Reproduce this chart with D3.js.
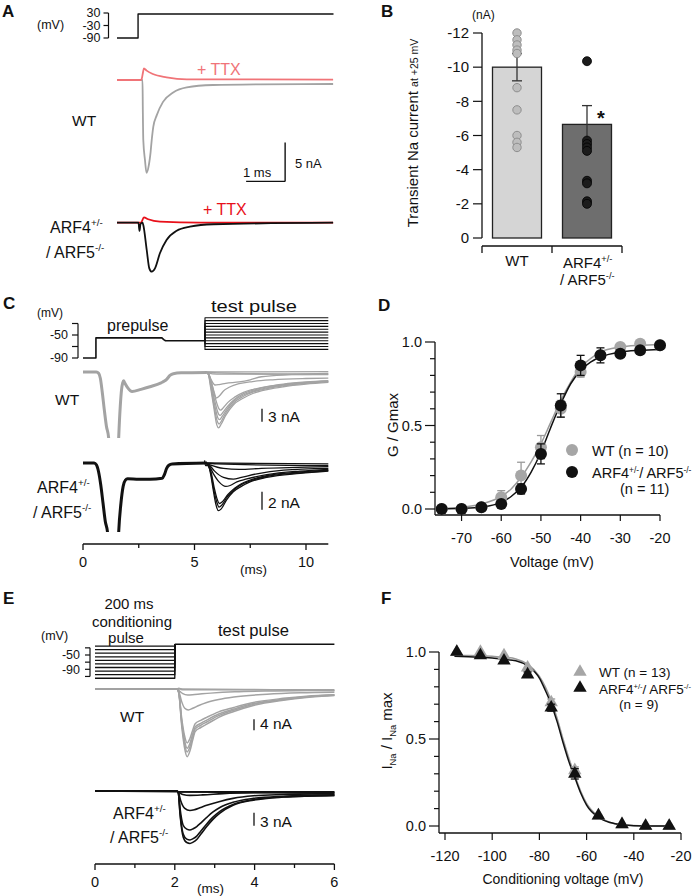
<!DOCTYPE html>
<html><head><meta charset="utf-8">
<script src="https://cdn.jsdelivr.net/npm/d3@7"></script>
<style>
body{margin:0;background:#fff;}
svg{display:block;font-family:"Liberation Sans",Arial,Helvetica,sans-serif;}
</style></head><body>
<script>
// ================= DATA =================
// Panel A : step protocol (ms, mV) and currents (ms, nA)
const aProtocol = [[0,-90],[0.54,-90],[0.54,25],[5.55,25]];
const aProtocolTicks = [30,-30,-90];
const aWtTrace = [[0,0],[0.654,0],[0.662,-3.8],[0.674,-7.7],[0.718,-10.3],[0.756,-11.9],[0.82,-10.8],[0.86,-9.3],[0.89,-7.7],[0.93,-6.0],[1.02,-4.5],[1.18,-2.8],[1.44,-1.6],[1.79,-0.94],[2.46,-0.64],[3.67,-0.55],[5.54,-0.51]];
const aWtTtx = [[0,0],[0.615,0],[0.64,0.26],[0.667,1.0],[0.69,1.5],[0.76,1.2],[0.92,0.77],[1.27,0.35],[1.79,0.09],[5.54,0.06]];
const aArfTrace = [[0,0],[0.55,0],[0.577,-1.06],[0.603,-0.17],[0.654,0],[0.674,-0.3],[0.762,-3.5],[0.828,-5.85],[0.89,-6.28],[0.974,-5.85],[1.10,-3.92],[1.27,-2.22],[1.53,-1.03],[1.87,-0.51],[2.47,-0.2],[5.54,0]];
const aArfTtx = [[0,0],[0.615,0],[0.69,0.69],[0.80,0.44],[1.10,0.13],[2.13,0],[5.54,0]];

// Panel B : transient Na current at +25 mV (nA)
const bCategories = ["WT","ARF"];
const bMeans = [-10.0,-6.65];
const bSem = [0.8,1.1];
const bWtPoints = [-12.0,-11.6,-11.3,-11.0,-10.8,-8.8,-7.5,-6.0,-5.6,-5.3];
const bArfPoints = [-10.35,-5.7,-5.5,-5.3,-5.1,-3.35,-3.2,-2.15,-2.0];
const bTicks = [0,-2,-4,-6,-8,-10,-12];

// Panel C : activation protocol and current families
const cPrepulse = [[0,-90],[0.58,-90],[0.58,-55],[3.54,-55],[3.62,-58],[3.7,-60],[5.47,-60]];
const cProtocolTicks = [-30,-50,-70,-90];
const cWtPre = [[0,0],[0.6,0],[0.7,-0.3],[0.78,-1.5],[0.86,-4.5],[0.95,-8.5],[1.05,-12.5],[1.15,-15.2],[1.3,-40],[1.45,-40],[1.6,-15.2],[1.67,-8],[1.73,-4],[1.78,-2.5],[1.82,-2.0],[1.88,-2.6],[2.0,-3.6],[2.2,-4.5],[2.6,-4.0],[3.0,-3.4],[3.5,-2.5],[3.65,-2.1],[3.75,-1.7],[3.9,-0.8],[4.05,-0.4],[4.4,-0.2],[5.55,-0.1]];
const cWtTest = [
 [[5.5,0],[5.62,-0.5],[5.72,-3.5],[5.86,-8],[6.0,-12.2],[6.08,-12.9],[6.2,-12],[6.4,-10],[6.74,-7.6],[7.2,-6],[7.64,-4.9],[8.3,-4],[8.98,-3.4],[10,-2.8],[11,-2.4]],
 [[5.5,0],[5.62,-0.5],[5.73,-3.2],[5.87,-7.6],[6.03,-11.5],[6.1,-12.0],[6.22,-11.2],[6.42,-9.3],[6.74,-7.2],[7.2,-5.6],[7.64,-4.6],[8.3,-3.8],[8.98,-3.2],[10,-2.6],[11,-2.3]],
 [[5.5,0],[5.62,-0.5],[5.74,-3],[5.88,-7],[6.05,-10.6],[6.12,-11.0],[6.25,-10.2],[6.45,-8.6],[6.74,-6.8],[7.2,-5.3],[7.64,-4.4],[8.3,-3.6],[8.98,-3.0],[10,-2.5],[11,-2.2]],
 [[5.5,0],[5.62,-0.5],[5.75,-2.8],[5.9,-6.5],[6.08,-9.7],[6.15,-10.0],[6.28,-9.3],[6.5,-7.8],[6.8,-6.3],[7.2,-5.0],[7.64,-4.2],[8.3,-3.4],[8.98,-2.9],[10,-2.4],[11,-2.1]],
 [[5.5,0],[5.62,-0.4],[5.76,-2.5],[5.92,-5.8],[6.1,-8.5],[6.17,-8.8],[6.3,-8.2],[6.5,-7.0],[6.8,-5.8],[7.2,-4.7],[7.64,-4.0],[8.3,-3.3],[8.98,-2.8],[10,-2.3],[11,-2.0]],
 [[5.5,0],[5.62,-0.4],[5.75,-2.2],[5.88,-4.6],[5.98,-6.0],[6.1,-5.6],[6.3,-4.4],[6.6,-3.4],[7.0,-2.7],[7.6,-2.2],[8.5,-1.8],[10,-1.5],[11,-1.4]],
 [[5.5,0],[5.62,-0.3],[5.75,-1.8],[5.92,-3.0],[6.1,-2.9],[6.4,-2.6],[7.0,-2.3],[7.5,-1.8],[8.0,-1.1],[9,-0.7],[11,-0.5]],
 [[5.5,0],[5.6,-0.2],[6,-0.5],[7,-0.5],[11,-0.3]],
 [[5.5,0],[6,-0.2],[11,-0.6]],
 [[5.5,0],[11,0.1]]
];
const cArfPre = [[0,0],[0.5,0],[0.6,-0.2],[0.7,-1.0],[0.8,-2.5],[0.9,-4.5],[1.0,-6.5],[1.1,-7.7],[1.3,-20],[1.45,-20],[1.6,-7.7],[1.7,-4.5],[1.8,-2.6],[1.9,-1.9],[2.0,-1.75],[2.5,-1.8],[3.0,-1.8],[3.55,-1.7],[3.65,-1.3],[3.75,-0.6],[3.85,-0.25],[4.0,-0.1],[5.56,0]];
const cArfTest = [
 [[5.45,0.3],[5.5,-0.3],[5.62,-0.3],[5.72,-1.2],[5.84,-3.0],[5.95,-4.5],[6.07,-5.3],[6.2,-5.1],[6.44,-4.1],[6.74,-3.2],[7.1,-2.6],[7.49,-2.1],[8.24,-1.6],[9.73,-1.15],[11,-0.9]],
 [[5.5,0],[5.62,-0.3],[5.73,-1.1],[5.86,-2.9],[5.98,-4.2],[6.1,-4.9],[6.22,-4.7],[6.46,-3.8],[6.76,-3.0],[7.1,-2.4],[7.49,-2.0],[8.24,-1.5],[9.73,-1.1],[11,-0.85]],
 [[5.5,0],[5.62,-0.3],[5.74,-1.0],[5.88,-2.7],[6.0,-3.9],[6.12,-4.5],[6.25,-4.3],[6.5,-3.5],[6.8,-2.8],[7.1,-2.3],[7.49,-1.9],[8.24,-1.4],[9.73,-1.0],[11,-0.8]],
 [[5.5,0],[5.65,-0.3],[5.85,-1.2],[6.1,-2.1],[6.4,-2.6],[6.6,-2.5],[6.9,-2.1],[7.3,-1.8],[8.24,-1.3],[9.73,-0.9],[11,-0.7]],
 [[5.5,0],[5.65,-0.2],[5.9,-0.9],[6.3,-1.6],[6.74,-1.8],[7.1,-1.6],[7.8,-1.2],[9,-0.8],[11,-0.6]],
 [[5.5,0],[5.7,-0.2],[6.3,-0.6],[7,-0.7],[8,-0.6],[11,-0.4]],
 [[5.5,0],[6,-0.1],[11,-0.3]],
 [[5.5,0],[11,-0.1]]
];
const cTicksMajor = [0,5,10];
const cTicksMinor = [2.5,7.5];

// Panel D : activation G/Gmax
const dVoltage = [-75,-70,-65,-60,-55,-50,-45,-40,-35,-30,-25,-20];
const dWtMean = [0.0,0.0,0.01,0.07,0.20,0.37,0.60,0.82,0.92,0.97,0.99,0.98];
const dWtErr  = [0.005,0.005,0.01,0.04,0.08,0.07,0.05,0.03,0.02,0.015,0.01,0.01];
const dArfMean = [0.0,0.0,0.01,0.03,0.12,0.33,0.62,0.86,0.92,0.93,0.95,0.98];
const dArfErr  = [0.005,0.005,0.01,0.01,0.03,0.06,0.07,0.06,0.045,0.02,0.015,0.01];
const dWtFitV  = [-75,-70,-65,-60,-57.5,-55,-52.5,-50,-47.5,-45,-42.5,-40,-37.5,-35,-30,-25,-20];
const dWtFitG  = [0.003,0.01,0.03,0.075,0.12,0.19,0.28,0.39,0.52,0.65,0.76,0.85,0.9,0.94,0.97,0.98,0.985];
const dArfFitV = [-75,-70,-65,-60,-57.5,-55,-52.5,-50,-47.5,-45,-42.5,-40,-37.5,-35,-30,-25,-20];
const dArfFitG = [0.001,0.004,0.012,0.04,0.075,0.13,0.22,0.34,0.49,0.63,0.75,0.83,0.88,0.91,0.94,0.95,0.955];
const dXTicks = [-70,-60,-50,-40,-30,-20];

// Panel E : inactivation protocol and current families
const eCondVoltages = [-115,-105,-95,-85,-75,-65,-55,-45,-35,-25];
const eTestVoltage = -20;
const eProtocolTicks = [-30,-50,-70,-90,-110];
const eWtTraces = [
 [[0,0],[2.05,0],[2.1,-1.5],[2.17,-13],[2.24,-21],[2.31,-24.6],[2.38,-22.5],[2.45,-18.5],[2.51,-15.5],[2.65,-14.0],[2.8,-12.8],[3.1,-10.3],[3.48,-8.2],[3.97,-6.0],[4.72,-4.1],[5.3,-3.1],[6,-2.4]],
 [[0,0],[2.05,0],[2.1,-1.4],[2.17,-12],[2.24,-19.5],[2.31,-22.9],[2.38,-21],[2.45,-17.3],[2.51,-14.6],[2.65,-13.2],[2.8,-12.0],[3.1,-9.7],[3.48,-7.7],[3.97,-5.6],[4.72,-3.9],[5.3,-2.9],[6,-2.3]],
 [[0,0],[2.05,0],[2.1,-1.3],[2.17,-11.3],[2.24,-18.3],[2.31,-21.5],[2.38,-19.7],[2.45,-16.3],[2.51,-13.8],[2.65,-12.5],[2.8,-11.3],[3.1,-9.1],[3.48,-7.3],[3.97,-5.3],[4.72,-3.7],[5.3,-2.8],[6,-2.2]],
 [[0,0],[2.05,0],[2.1,-1.2],[2.17,-10.3],[2.24,-16.7],[2.31,-19.6],[2.38,-18],[2.45,-14.9],[2.51,-12.6],[2.65,-11.4],[2.8,-10.3],[3.1,-8.3],[3.48,-6.7],[3.97,-4.9],[4.72,-3.4],[5.3,-2.6],[6,-2.1]],
 [[0,0],[2.05,0],[2.1,-0.8],[2.17,-4.5],[2.25,-7.0],[2.34,-7.6],[2.45,-7.0],[2.6,-6.0],[2.8,-4.9],[3.1,-3.8],[3.48,-2.9],[4.31,-1.9],[5.14,-1.4],[6,-1.2]],
 [[0,0],[2.05,0],[2.12,-0.8],[2.2,-1.7],[2.32,-2.2],[2.5,-2.0],[2.9,-1.5],[3.5,-1.0],[4.5,-0.7],[6,-0.5]],
 [[0,0],[2.05,0],[2.1,0.3],[2.2,-0.3],[6,-0.3]],
 [[0,0],[2.1,0],[6,-0.6]]
];
const eArfTraces = [
 [[0,0],[2.05,0],[2.09,-0.5],[2.13,-5.2],[2.21,-10.6],[2.3,-11.9],[2.38,-12.1],[2.46,-11.8],[2.55,-11.2],[2.65,-10.0],[2.8,-8.2],[2.95,-6.6],[3.13,-5.1],[3.46,-3.3],[3.97,-2.1],[4.72,-1.4],[6,-1.0]],
 [[0,0],[2.05,0],[2.09,-0.5],[2.13,-4.9],[2.21,-9.9],[2.3,-11.1],[2.38,-11.3],[2.46,-11.0],[2.55,-10.4],[2.65,-9.3],[2.8,-7.6],[2.95,-6.1],[3.13,-4.7],[3.46,-3.1],[3.97,-2.0],[4.72,-1.35],[6,-1.0]],
 [[0,0],[2.05,0],[2.09,-0.4],[2.13,-3.9],[2.21,-7.9],[2.3,-8.8],[2.38,-9.0],[2.46,-8.7],[2.55,-8.2],[2.65,-7.4],[2.8,-6.1],[2.95,-4.9],[3.13,-3.8],[3.46,-2.6],[3.97,-1.7],[4.72,-1.2],[6,-0.9]],
 [[0,0],[2.05,0],[2.09,-0.3],[2.15,-2.3],[2.25,-4.0],[2.38,-4.5],[2.5,-4.3],[2.65,-3.8],[2.8,-3.3],[3.13,-2.4],[3.46,-1.7],[3.97,-1.1],[4.72,-0.8],[6,-0.6]],
 [[0,0],[2.05,0],[2.1,-0.3],[2.2,-0.8],[2.38,-1.0],[2.7,-0.9],[3.2,-0.6],[4,-0.4],[6,-0.3]],
 [[0,0],[2.05,0],[2.1,-0.2],[6,-0.2]],
 [[0,0],[6,-0.5]]
];
const eTicksMajor = [0,2,4,6];
const eTicksMinor = [1,3,5];

// Panel F : steady-state inactivation
const fVoltage = [-115,-105,-95,-85,-75,-65,-55,-45,-35,-25];
const fWtMean = [1.0,1.0,0.98,0.91,0.71,0.32,0.06,0.01,0.0,0.0];
const fWtErr  = [0.005,0.005,0.01,0.01,0.02,0.02,0.01,0.005,0.003,0.003];
const fArfMean = [1.0,0.98,0.95,0.87,0.68,0.30,0.06,0.01,0.0,0.0];
const fArfErr  = [0.005,0.01,0.01,0.015,0.02,0.03,0.01,0.005,0.003,0.003];
const fWtFitV  = [-116,-110,-100,-95,-90,-85,-80,-77.5,-75,-72.5,-70,-67.5,-65,-62.5,-60,-55,-50,-45,-40,-30,-25];
const fWtFitI  = [0.98,0.98,0.975,0.97,0.96,0.93,0.86,0.80,0.72,0.62,0.50,0.39,0.29,0.20,0.13,0.055,0.02,0.008,0.003,0.0,0.0];
const fArfFitV = [-116,-110,-100,-95,-90,-85,-80,-77.5,-75,-72.5,-70,-67.5,-65,-62.5,-60,-55,-50,-45,-40,-30,-25];
const fArfFitI = [0.975,0.972,0.965,0.958,0.95,0.92,0.85,0.78,0.70,0.60,0.48,0.37,0.28,0.19,0.12,0.05,0.02,0.007,0.002,0.0,0.0];
const fXTicks = [-120,-100,-80,-60,-40,-20];

// ================= DRAWING =================
const GRAY = "#a3a3a3", RED_LIGHT = "#f07478", RED = "#e8101a";
const svg = d3.select("body").append("svg").attr("width",700).attr("height",896);

function txt(x,y,s,size,o={}){
  const t = svg.append("text").attr("x",x).attr("y",y).attr("font-size",size)
    .attr("fill",o.fill||"#111").text(s);
  if(o.anchor) t.attr("text-anchor",o.anchor);
  if(o.weight) t.attr("font-weight",o.weight);
  if(o.len) t.attr("textLength",o.len).attr("lengthAdjust","spacingAndGlyphs");
  return t;
}
function rich(x,y,parts,size,o={}){
  const t = svg.append("text").attr("x",x).attr("y",y).attr("font-size",size).attr("fill",o.fill||"#111");
  if(o.anchor) t.attr("text-anchor",o.anchor);
  if(o.transform) t.attr("transform",o.transform);
  const up = o.supShift || 0.42;
  let cur=0;
  parts.forEach(([s,m])=>{
    const target = m===1 ? -up*size : (m===-1 ? 0.28*size : 0);
    t.append("tspan").attr("dy",target-cur).attr("font-size", m ? size*(o.supScale||0.62) : size).text(s);
    cur=target;
  });
  return t;
}
function path(g, pts, xs, ys, color, w, curve){
  return g.append("path").datum(pts).attr("fill","none").attr("stroke",color)
    .attr("stroke-width",w).attr("stroke-linejoin","round").attr("stroke-linecap","butt")
    .attr("d", d3.line().x(d=>xs(d[0])).y(d=>ys(d[1])).curve(curve||d3.curveMonotoneX));
}
function seg(x1,y1,x2,y2,color,w){
  svg.append("line").attr("x1",x1).attr("y1",y1).attr("x2",x2).attr("y2",y2)
    .attr("stroke",color||"#111").attr("stroke-width",w||1.2);
}
function vAxisLeft(x, ys, ticks, labelled, tickLen, fontSize, pad){
  ticks.forEach(v=>{
    seg(x-tickLen, ys(v), x, ys(v), "#111", 1.2);
    if(labelled.includes(v)) txt(x-tickLen-pad, ys(v)+fontSize*0.35, String(v), fontSize, {anchor:"end"});
  });
}

// panel letters
[["A",2,17],["B",381,17],["C",3,309],["D",378,311],["E",3,604],["F",381,604]].forEach(([l,x,y])=>
  txt(x,y,l,17,{weight:"bold"}));

// ---------- Panel A ----------
const gA = svg.append("g");
const xA = d3.scaleLinear().domain([0,5.55]).range([117,333.5]);
const yAp = d3.scaleLinear().domain([-90,30]).range([38,13]);
const yAw = d3.scaleLinear().domain([0,-5]).range([80,119]);
const yAa = d3.scaleLinear().domain([0,-5]).range([222.7,261.7]);
seg(108.5, yAp(30), 108.5, yAp(-90));
vAxisLeft(108.5, yAp, aProtocolTicks, aProtocolTicks, 5, 12.5, 3);
txt(37, 29, "(mV)", 12.5);
path(gA, aProtocol, xA, yAp, "#111", 1.4, d3.curveLinear);
path(gA, aWtTrace, xA, yAw, GRAY, 1.8);
path(gA, aWtTtx, xA, yAw, RED_LIGHT, 1.8);
txt(197, 75, "+ TTX", 16, {fill:RED_LIGHT});
txt(72, 126, "WT", 15.5);
// scale bar 1 ms / 5 nA
seg(xA(4.31)-39, yAw(-13), xA(4.31), yAw(-13), "#111", 1.4);
seg(xA(4.31), yAw(-13), xA(4.31), yAw(-8), "#111", 1.4);
txt(243, 177, "1 ms", 13);
txt(295, 168, "5 nA", 13);
path(gA, aArfTtx, xA, yAa, RED, 1.8);
path(gA, aArfTrace, xA, yAa, "#111", 1.8);
txt(203, 215, "+ TTX", 16, {fill:RED});
rich(50, 233, [["ARF4",0],["+/-",1]], 16);
rich(46, 258, [["/ ARF5",0],["-/-",1]], 16);

// ---------- Panel B ----------
const xB = d3.scaleBand().domain(bCategories).range([482,622]).paddingInner(0.3).paddingOuter(0.15);
const yB = d3.scaleLinear().domain([0,-12]).range([238,33]);
const barFill = ["#d5d5d5","#6e6e6e"];
bCategories.forEach((c,i)=>{
  svg.append("rect").attr("x",xB(c)).attr("y",yB(bMeans[i])).attr("width",xB.bandwidth())
    .attr("height",yB(0)-yB(bMeans[i])).attr("fill",barFill[i]).attr("stroke","#222").attr("stroke-width",1.3);
});
bCategories.forEach((c,i)=>{
  const cx = xB(c)+xB.bandwidth()/2;
  seg(cx, yB(bMeans[i]-bSem[i]), cx, yB(bMeans[i]+bSem[i]), "#333", 1.3);
  seg(cx-5, yB(bMeans[i]-bSem[i]), cx+5, yB(bMeans[i]-bSem[i]), "#333", 1.3);
  if(i===0) seg(cx-5, yB(bMeans[i]+bSem[i]), cx+5, yB(bMeans[i]+bSem[i]), "#333", 1.3);
});
const cxW = xB("WT")+xB.bandwidth()/2, cxA = xB("ARF")+xB.bandwidth()/2;
bWtPoints.forEach(v=> svg.append("circle").attr("cx",cxW).attr("cy",yB(v)).attr("r",4.2)
  .attr("fill","#bdbdbd").attr("stroke","#8e8e8e").attr("stroke-width",1));
bArfPoints.forEach(v=> svg.append("circle").attr("cx",cxA).attr("cy",yB(v)).attr("r",4.5)
  .attr("fill","#1c1c1c").attr("stroke","#000").attr("stroke-width",0.8));
seg(482, yB(-12), 482, yB(0), "#111", 1.3);
vAxisLeft(482, yB, bTicks, bTicks, 9, 15, 4);
txt(472, 19, "(nA)", 12);
txt(601, 125, "*", 20, {anchor:"middle", weight:"bold"});
seg(482, 246, 622, 246, "#111", 1.3);
[482,552,622].forEach(x=>seg(x,246,x,253,"#111",1.3));
txt(cxW, 266, "WT", 15, {anchor:"middle"});
rich(563, 268, [["ARF4",0],["+/-",1]], 15);
rich(560, 285, [["/ ARF5",0],["-/-",1]], 15);
rich(0, 0, [["Transient Na current ",0],["at +25 mV",0]], 15, {anchor:"middle", transform:"translate(418,133) rotate(-90)"})
  .selectAll("tspan").filter((d,i)=>i===1).attr("font-size",10.5);

// ---------- Panel C ----------
const xC = d3.scaleLinear().domain([0,11]).range([83,328.3]);
const yCp = d3.scaleLinear().domain([-90,-30]).range([358,323.5]);
const yCw = d3.scaleLinear().domain([0,-3]).range([372,385]);
const yCa = d3.scaleLinear().domain([0,-2]).range([463,481]);
seg(78, yCp(-30), 78, yCp(-90));
vAxisLeft(78, yCp, cProtocolTicks, [-50,-90], 6, 12.5, 4);
txt(37, 317, "(mV)", 12);
const gC = svg.append("g");
path(gC, cPrepulse, xC, yCp, "#111", 1.6, d3.curveLinear);
dVoltage.forEach(v=> path(gC, [[5.47,-60],[5.47,v],[11,v]], xC, yCp, "#111", 1.1, d3.curveLinear));
txt(107, 331, "prepulse", 16);
txt(211, 312, "test pulse", 16, {len:86});
svg.append("clipPath").attr("id","clipCw").append("rect").attr("x",0).attr("y",300).attr("width",350).attr("height",138);
svg.append("clipPath").attr("id","clipCa").append("rect").attr("x",0).attr("y",440).attr("width",350).attr("height",92);
const gCw = svg.append("g").attr("clip-path","url(#clipCw)");
path(gCw, cWtPre, xC, yCw, GRAY, 3);
cWtTest.forEach(t=> path(gCw, t, xC, yCw, GRAY, 1.3));
const gCa = svg.append("g").attr("clip-path","url(#clipCa)");
path(gCa, cArfPre, xC, yCa, "#111", 3);
cArfTest.forEach(t=> path(gCa, t, xC, yCa, "#111", 1.3));
txt(55, 405, "WT", 15.5);
seg(262, yCw(-8.5), 262, yCw(-11.5), "#111", 1.3);
txt(268, 422, "3 nA", 15.5);
seg(262, yCa(-3.2), 262, yCa(-5.2), "#111", 1.3);
txt(268, 508, "2 nA", 15.5);
rich(37, 493, [["ARF4",0],["+/-",1]], 16);
rich(33, 518, [["/ ARF5",0],["-/-",1]], 16);
seg(xC(0), 544, xC(11), 544, "#111", 1.3);
cTicksMajor.forEach(v=>{ seg(xC(v),544,xC(v),550,"#111",1.3); txt(xC(v),567,String(v),14.5,{anchor:"middle"}); });
cTicksMinor.forEach(v=> seg(xC(v),544,xC(v),548,"#111",1.3));
txt(240, 574, "(ms)", 13.5);

// ---------- Panel D ----------
const xD = d3.scaleLinear().domain([-75,-20]).range([441.7,660]);
const yD = d3.scaleLinear().domain([0,1]).range([509,342]);
seg(435, 342, 435, 515, "#111", 1.3);
seg(435, 515, 660, 515, "#111", 1.3);
d3.range(0,1.01,0.1).forEach((v,i)=>{
  const major = (i%5===0);
  seg(435-(major?10:5), yD(v), 435, yD(v), "#111", 1.2);
  if(major) txt(422, yD(v)+5, d3.format(".1f")(v), 14.5, {anchor:"end"});
});
dXTicks.forEach(v=>{ seg(xD(v),515,xD(v),521,"#111",1.2); txt(xD(v),543,String(v),14.5,{anchor:"middle"}); });
txt(552, 567, "Voltage (mV)", 14.5, {anchor:"middle"});
rich(0,0,[["G / Gmax",0]],15,{anchor:"middle",transform:"translate(398,425) rotate(-90)"});
const gD = svg.append("g");
path(gD, dWtFitV.map((v,i)=>[v,dWtFitG[i]]), xD, yD, "#9a9a9a", 1.5);
path(gD, dArfFitV.map((v,i)=>[v,dArfFitG[i]]), xD, yD, "#111", 1.5);
function errPts(g, V, M, E, xs, ys, color){
  V.forEach((v,i)=>{
    if(E[i]<0.012) return;
    const x=xs(v);
    seg(x, ys(M[i]-E[i]), x, ys(M[i]+E[i]), color, 1.3);
    seg(x-4, ys(M[i]+E[i]), x+4, ys(M[i]+E[i]), color, 1.3);
    seg(x-4, ys(M[i]-E[i]), x+4, ys(M[i]-E[i]), color, 1.3);
  });
}
errPts(gD, dVoltage, dWtMean, dWtErr, xD, yD, "#9a9a9a");
dVoltage.forEach((v,i)=> svg.append("circle").attr("cx",xD(v)).attr("cy",yD(dWtMean[i])).attr("r",6).attr("fill","#a6a6a6"));
errPts(gD, dVoltage, dArfMean, dArfErr, xD, yD, "#111");
dVoltage.forEach((v,i)=> svg.append("circle").attr("cx",xD(v)).attr("cy",yD(dArfMean[i])).attr("r",6).attr("fill","#111"));
svg.append("circle").attr("cx",572).attr("cy",450).attr("r",6).attr("fill","#a6a6a6");
svg.append("circle").attr("cx",572).attr("cy",472).attr("r",6).attr("fill","#111");
txt(592, 456, "WT (n = 10)", 14.5);
rich(592, 478, [["ARF4",0],["+/-",1],["/ ARF5",0],["-/-",1]], 14.5, {supShift:0.36, supScale:0.58});
txt(620, 494, "(n = 11)", 14.5);

// ---------- Panel E ----------
const xE = d3.scaleLinear().domain([0,6]).range([95,334.4]);
const yEp = d3.scaleLinear().domain([-90,-50]).range([669.3,655]);
const yEw = d3.scaleLinear().domain([0,-4]).range([689,700]);
const yEa = d3.scaleLinear().domain([0,-3]).range([791,804]);
seg(90, yEp(-30), 90, yEp(-110));
vAxisLeft(90, yEp, eProtocolTicks, [-50,-90], 5, 12.5, 5);
txt(41, 640, "(mV)", 12.5);
txt(129, 609, "200 ms", 15, {anchor:"middle"});
txt(132, 627, "conditioning", 15, {anchor:"middle"});
txt(126, 643, "pulse", 15, {anchor:"middle"});
txt(218, 636, "test pulse", 17, {len:71});
const gE = svg.append("g");
eCondVoltages.forEach(v=> path(gE, [[0,v],[2,v],[2,eTestVoltage]], xE, yEp, "#111", 1.3, d3.curveLinear));
path(gE, [[2,eTestVoltage],[6,eTestVoltage]], xE, yEp, "#111", 1.4, d3.curveLinear);
eWtTraces.forEach(t=> path(gE, t, xE, yEw, GRAY, 1.5));
eArfTraces.forEach(t=> path(gE, t, xE, yEa, "#111", 1.6));
txt(120, 722, "WT", 15.5);
seg(254, yEw(-11), 254, yEw(-15), "#111", 1.3);
txt(260, 729, "4 nA", 15.5);
seg(254, yEa(-5), 254, yEa(-8), "#111", 1.3);
txt(260, 827, "3 nA", 15.5);
rich(113, 819, [["ARF4",0],["+/-",1]], 16);
rich(110, 843, [["/ ARF5",0],["-/-",1]], 16);
seg(xE(0), 864, xE(6), 864, "#111", 1.3);
eTicksMajor.forEach(v=>{ seg(xE(v),864,xE(v),870,"#111",1.3); txt(xE(v),887,String(v),14.5,{anchor:"middle"}); });
eTicksMinor.forEach(v=> seg(xE(v),864,xE(v),868,"#111",1.3));
txt(197, 893, "(ms)", 13.5);

// ---------- Panel F ----------
const xF = d3.scaleLinear().domain([-120,-20]).range([445,681]);
const yF = d3.scaleLinear().domain([0,1]).range([826,652]);
seg(439, 652, 439, 833, "#111", 1.3);
seg(439, 833, 681, 833, "#111", 1.3);
d3.range(0,1.01,0.1).forEach((v,i)=>{
  const major = (i%5===0);
  seg(439-(major?10:5), yF(v), 439, yF(v), "#111", 1.2);
  if(major) txt(426, yF(v)+5, d3.format(".1f")(v), 14.5, {anchor:"end"});
});
fXTicks.forEach(v=>{ seg(xF(v),833,xF(v),840,"#111",1.2); txt(xF(v),861,String(v),14.5,{anchor:"middle"}); });
txt(563, 884, "Conditioning voltage (mV)", 14, {anchor:"middle"});
rich(0,0,[["I",0],["Na",-1],[" / I",0],["Na",-1],[" max",0]],15,{anchor:"middle",transform:"translate(392,731) rotate(-90)"});
const gF = svg.append("g");
path(gF, fWtFitV.map((v,i)=>[v,fWtFitI[i]]), xF, yF, "#9a9a9a", 1.5);
path(gF, fArfFitV.map((v,i)=>[v,fArfFitI[i]]), xF, yF, "#111", 1.5);
const tri = d3.symbol().type(d3.symbolTriangle).size(78);
errPts(gF, fVoltage, fWtMean, fWtErr, xF, yF, "#9a9a9a");
fVoltage.forEach((v,i)=> svg.append("path").attr("d",tri()).attr("transform",`translate(${xF(v)},${yF(fWtMean[i])})`).attr("fill","#a6a6a6"));
errPts(gF, fVoltage, fArfMean, fArfErr, xF, yF, "#111");
fVoltage.forEach((v,i)=> svg.append("path").attr("d",tri()).attr("transform",`translate(${xF(v)},${yF(fArfMean[i])})`).attr("fill","#111"));
svg.append("path").attr("d",tri()).attr("transform","translate(580,672)").attr("fill","#a6a6a6");
svg.append("path").attr("d",tri()).attr("transform","translate(580,688)").attr("fill","#111");
txt(599, 677, "WT (n = 13)", 13.5);
rich(599, 694, [["ARF4",0],["+/-",1],["/ ARF5",0],["-/-",1]], 13.5, {supShift:0.34, supScale:0.56});
txt(619, 709, "(n = 9)", 13.5);
</script></body></html>
